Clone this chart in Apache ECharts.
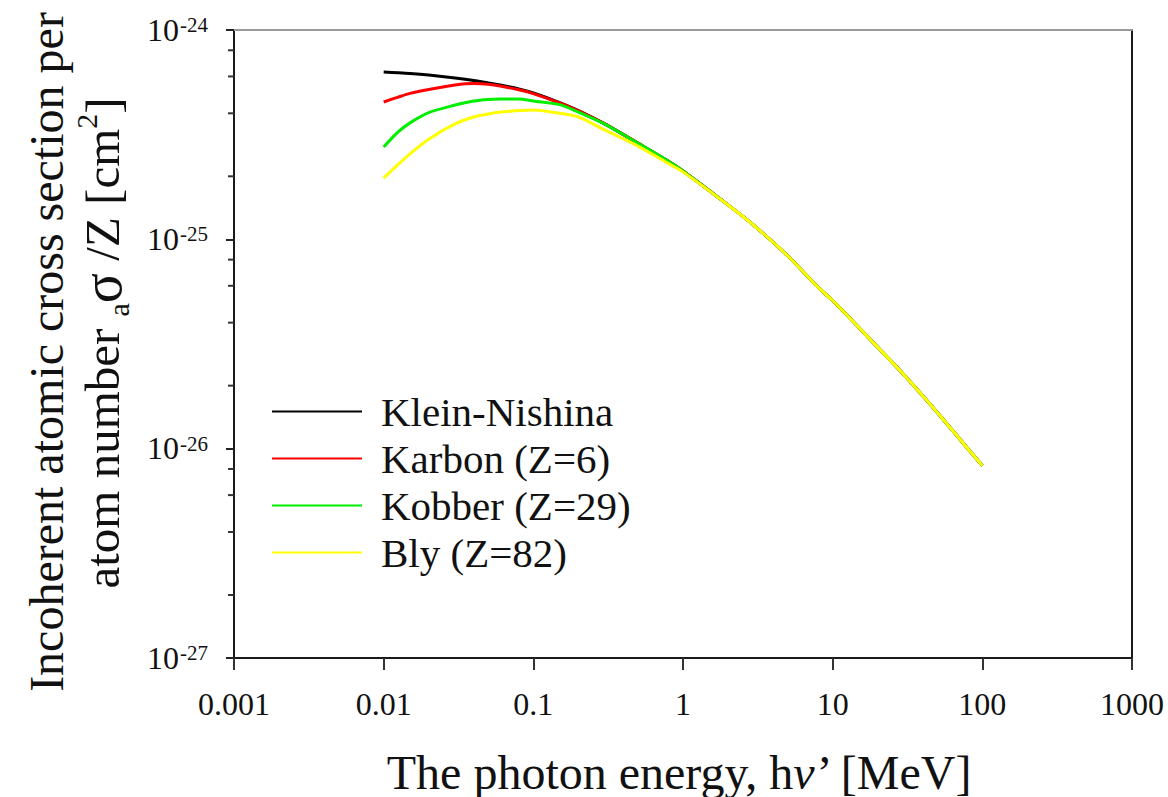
<!DOCTYPE html>
<html>
<head>
<meta charset="utf-8">
<script src="https://cdn.jsdelivr.net/npm/echarts@6/dist/echarts.min.js"></script>
<style>
html,body{margin:0;padding:0;background:#fff;}
#chart{width:1168px;height:797px;}
</style>
</head>
<body>
<div id="chart"></div>
<script>
// Photon energy [MeV]
const energies = [0.01, 0.0125, 0.015, 0.02, 0.03, 0.04, 0.05, 0.06, 0.08, 0.1, 0.15, 0.2, 0.3, 0.5, 0.8, 1, 2, 3, 5, 8, 10, 20, 30, 50, 80, 100];
// Cross sections per electron, in units of 1e-27 cm^2
const kleinNishina = [630, 625, 620, 609, 590, 574, 558, 546, 523, 500, 450, 412, 356, 288, 236, 212, 146, 116, 83.5, 59, 51, 30.5, 22.5, 14.9, 10.0, 8.3];
const karbon       = [453, 478, 498, 520, 546, 555, 550, 540, 518, 497, 448, 411, 356, 288, 236, 212, 146, 116, 83.5, 59, 51, 30.5, 22.5, 14.9, 10.0, 8.3];
const kobber       = [276, 326, 360, 403, 438, 458, 466, 468, 468, 458, 440, 405, 355, 288, 236, 212, 146, 116, 83.5, 59, 51, 30.5, 22.5, 14.9, 10.0, 8.3];
const bly          = [196, 228, 256, 301, 356, 384, 397, 406, 412, 415, 400, 384, 333, 279, 230, 210, 146, 116, 83.5, 59, 51, 30.5, 22.5, 14.9, 10.0, 8.3];
const seriesNames = ['Klein-Nishina', 'Karbon (Z=6)', 'Kobber (Z=29)', 'Bly (Z=82)'];
const seriesColors = ['#000000', '#ff0000', '#00ee00', '#ffff00'];
const xTickLabels = ['0.001', '0.01', '0.1', '1', '10', '100', '1000'];
const UNIT_EXP = -27; // data unit = 1e-27 cm^2
const yMajorTicks = [1, 10, 100, 1000];
const yMinorTicks = [2, 4, 6, 8, 20, 40, 60, 80, 200, 400, 600, 800];

const FONT = 'Liberation Serif, Times New Roman, serif';
const chart = echarts.init(document.getElementById('chart'), null, {renderer: 'svg'});

function pairs(vals) { return energies.map((e, i) => [e, vals[i]]); }
const allVals = [kleinNishina, karbon, kobber, bly];

const lineSeries = seriesNames.map((n, i) => ({
  name: n,
  type: 'line',
  data: pairs(allVals[i]),
  showSymbol: false,
  smooth: 0.3,
  lineStyle: {color: seriesColors[i], width: 3},
  itemStyle: {color: seriesColors[i]},
  z: 3 + i
}));

const option = {
  backgroundColor: '#ffffff',
  animation: false,
  grid: {left: 234, right: 36, top: 30, bottom: 139, containLabel: false},
  legend: {
    data: seriesNames,
    orient: 'vertical',
    left: 272,
    top: 391,
    icon: 'rect',
    itemWidth: 90,
    itemHeight: 2,
    itemGap: 6,
    padding: 0,
    textStyle: {fontFamily: FONT, fontSize: 41, lineHeight: 40, color: '#111', padding: [0, 0, 0, 14]}
  },
  xAxis: [{
    type: 'log',
    logBase: 10,
    min: 0.001,
    max: 1000,
    splitLine: {show: false},
    axisLine: {lineStyle: {color: '#1a1a1a', width: 2}},
    axisTick: {show: true, length: 12, inside: false, lineStyle: {color: '#333', width: 2}},
    minorTick: {show: false},
    axisLabel: {
      margin: 30,
      fontFamily: FONT, fontSize: 32, color: '#111',
      formatter: function (v) { return xTickLabels[Math.round(Math.log10(v)) + 3]; }
    }
  }, {
    type: 'value',
    position: 'top',
    min: 0, max: 1,
    axisLine: {show: true, lineStyle: {color: '#999', width: 2}},
    axisTick: {show: false}, axisLabel: {show: false}, splitLine: {show: false}
  }],
  yAxis: [{
    type: 'log',
    logBase: 10,
    min: 1,
    max: 1000,
    splitLine: {show: false},
    axisLine: {show: true, lineStyle: {color: '#1a1a1a', width: 2}},
    axisTick: {show: true, length: 8, inside: false, lineStyle: {color: '#222', width: 2}},
    axisLabel: {show: false}
  }, {
    type: 'value',
    position: 'right',
    min: 0, max: 1,
    axisLine: {show: true, lineStyle: {color: '#1a1a1a', width: 2}},
    axisTick: {show: false}, axisLabel: {show: false}, splitLine: {show: false}
  }],
  graphic: [
    {
      type: 'text', x: 46, y: 352, rotation: Math.PI / 2,
      style: {text: 'Incoherent atomic cross section per', font: "48px " + FONT, fill: '#111', align: 'center', verticalAlign: 'middle'}
    },
    {
      type: 'text', x: 102, y: 343, rotation: Math.PI / 2,
      style: {
        text: '{m|atom number }{sub|a}{g|σ}{m| /Z [cm}{sup|2}{m|]}',
        align: 'center', verticalAlign: 'middle', fill: '#111',
        rich: {
          m: {fontFamily: FONT, fontSize: 49, lineHeight: 62, verticalAlign: 'middle', fill: '#111'},
          g: {fontFamily: FONT, fontSize: 56, lineHeight: 62, verticalAlign: 'middle', fill: '#111'},
          sub: {fontFamily: FONT, fontSize: 30, lineHeight: 30, verticalAlign: 'bottom', fill: '#111'},
          sup: {fontFamily: FONT, fontSize: 30, lineHeight: 30, verticalAlign: 'top', fill: '#111'}
        }
      }
    },
    {
      type: 'text', x: 680, y: 772,
      style: {
        text: '{m|The photon energy, h}{i|ν}{m|’ [MeV]}',
        align: 'center', verticalAlign: 'middle', fill: '#111',
        rich: {
          m: {fontFamily: FONT, fontSize: 48, fill: '#111'},
          i: {fontFamily: FONT, fontSize: 48, fontStyle: 'italic', fill: '#111'}
        }
      }
    }
  ],
  series: lineSeries.concat([{
    type: 'custom',
    name: 'yMinor',
    silent: true,
    xAxisIndex: 0,
    yAxisIndex: 0,
    data: yMinorTicks.map(v => [0.001, v]),
    renderItem: function (params, api) {
      const p = api.coord([api.value(0), api.value(1)]);
      return {
        type: 'line',
        shape: {x1: p[0] - 6, y1: p[1], x2: p[0], y2: p[1]},
        style: {stroke: '#333', lineWidth: 2}
      };
    },
    z: 10
  }, {
    type: 'custom',
    name: 'yLabels',
    silent: true,
    xAxisIndex: 0,
    yAxisIndex: 0,
    data: yMajorTicks.map(v => [0.001, v]),
    renderItem: function (params, api) {
      const v = api.value(1);
      const p = api.coord([api.value(0), v]);
      const e = Math.round(Math.log10(v)) + UNIT_EXP;
      return {
        type: 'text',
        x: p[0] - 26,
        y: p[1],
        style: {
          text: '{b|10}{s|' + e + '}',
          align: 'right', verticalAlign: 'middle',
          textAlign: 'right', textVerticalAlign: 'middle',
          fill: '#111',
          rich: {
            b: {fontFamily: FONT, fontSize: 32, lineHeight: 31, fill: '#111', verticalAlign: 'bottom'},
            s: {fontFamily: FONT, fontSize: 21, lineHeight: 31, fill: '#111', verticalAlign: 'top', padding: [0, 0, 0, 1]}
          }
        }
      };
    },
    z: 10
  }])
};
chart.setOption(option);
</script>
</body>
</html>
